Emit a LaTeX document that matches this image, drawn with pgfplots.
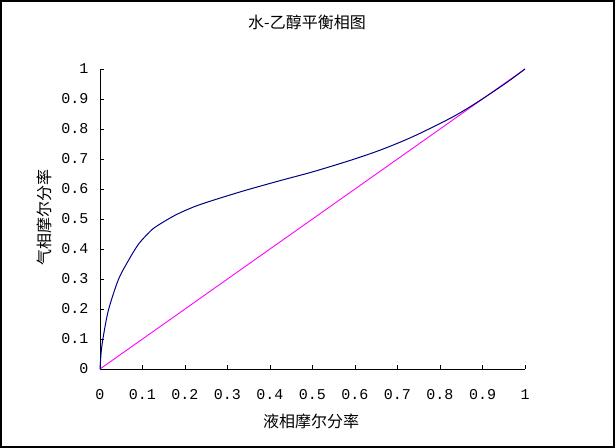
\documentclass[border=0pt]{standalone}
\usepackage{pgfplots}
\pgfplotsset{compat=1.18}
\usepackage{fontspec}
\setmainfont{Noto Sans CJK SC}
\newfontfamily\tickfont{Liberation Mono}
\definecolor{navy}{RGB}{0,0,128}
\definecolor{mag}{RGB}{255,0,255}
\begin{document}
\begin{tikzpicture}
\path[use as bounding box] (-100bp,-79bp) rectangle (515bp,369bp);
\draw[line width=1.6bp,black] (-99.2bp,-78.2bp) rectangle (514.2bp,368.2bp);
\begin{axis}[
  at={(0,0)}, anchor=south west,
  scale only axis, width=425bp, height=300bp,
  xmin=0, xmax=1, ymin=0, ymax=1,
  axis x line*=bottom, axis y line*=left,
  axis line style={line width=0.9bp},
  tick align=inside, major tick length=4bp,
  tick style={line width=0.8bp,black},
  xtick={0,0.1,...,1.01}, ytick={0,0.1,...,1.01},
  xticklabels={0,0.1,0.2,0.3,0.4,0.5,0.6,0.7,0.8,0.9,1},
  yticklabels={0,0.1,0.2,0.3,0.4,0.5,0.6,0.7,0.8,0.9,1},
  /pgf/number format/assume math mode=true,
  ticklabel style={font=\tickfont\fontsize{15bp}{17bp}\selectfont},
  xticklabel style={yshift=-17bp},
  yticklabel style={xshift=-8bp},
  clip=false,
]
\addplot[mag, line width=0.9bp] coordinates {(0,0) (1,1)};
\addplot[navy, line width=1bp, smooth, tension=0.5] coordinates {
(0,0) (0.003,0.06) (0.008,0.11) (0.02,0.197) (0.043,0.297) (0.067,0.362)
(0.09,0.415) (0.11,0.447) (0.129,0.472) (0.176,0.512) (0.22,0.54)
(0.263,0.561) (0.341,0.595) (0.424,0.628) (0.5,0.657) (0.588,0.695)
(0.66,0.73) (0.737,0.775) (0.831,0.841) (0.894,0.895) (0.957,0.955) (1,1)};
\node[font=\fontsize{16bp}{18bp}\selectfont] at (rel axis cs:0.487,1.157) {水-乙醇平衡相图};
\node[font=\fontsize{16bp}{18bp}\selectfont] at (rel axis cs:0.497,-0.173) {液相摩尔分率};
\node[font=\fontsize{16bp}{18bp}\selectfont, rotate=90] at (rel axis cs:-0.13,0.505) {气相摩尔分率};
\end{axis}
\end{tikzpicture}
\end{document}
